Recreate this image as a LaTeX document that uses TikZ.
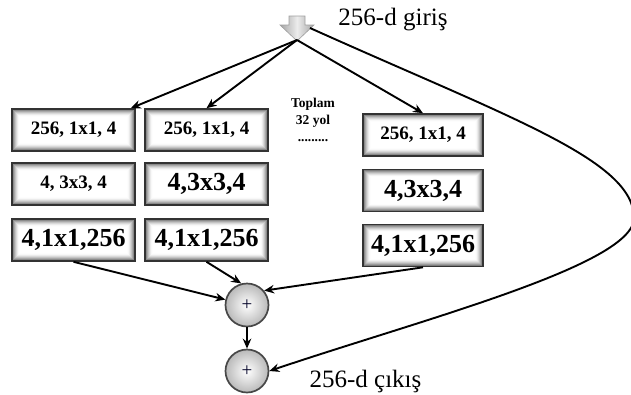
\documentclass[tikz,border=0pt]{standalone}
\usepackage{fontspec}
\setmainfont{Liberation Serif}
\usetikzlibrary{arrows.meta}

\tikzset{
  % block with a soft inner gray glow along its border
  blk/.style={draw=black!80, line width=1.6pt, fill=white,
    minimum width=123pt, minimum height=42pt, inner sep=0pt,
    font=\bfseries,
    path picture={
      \foreach \i in {0,...,13}{
        \pgfmathsetmacro\d{0.8+0.5*\i}
        \pgfmathsetmacro\c{58*(1-\i/14)^1.6}
        \draw[black!\c, line width=0.65pt]
          ([shift={(\d pt,-\d pt)}]path picture bounding box.north west)
          rectangle ([shift={(-\d pt,\d pt)}]path picture bounding box.south east);
      }}},
  small/.style={font=\bfseries\fontsize{19}{19}\selectfont},
  large/.style={font=\bfseries\fontsize{26}{26}\selectfont},
  addnode/.style={circle, minimum size=43pt, inner sep=0pt,
    inner color=white, outer color=gray!55, draw=black!72, line width=1.7pt,
    text=black!85!blue, font=\fontsize{19}{19}\selectfont},
  arr/.style={-{Stealth[length=10pt,width=8.5pt]}, line width=1.9pt, black},
  lbl/.style={font=\fontsize{25}{25}\selectfont, inner sep=0pt, anchor=base},
}

\begin{document}
\begin{tikzpicture}[x=1pt,y=-1pt]
\useasboundingbox (0,0) rectangle (631,394);

% input arrow symbol
\shade[left color=gray!70, right color=gray!70, middle color=gray!15, draw=gray!75, line width=0.6pt]
  (289,16) -- (305,16) -- (305,25) -- (314,25) -- (297,41) -- (280,25) -- (289,25) -- cycle;
\coordinate (inp) at (297,40);
\coordinate (inpr) at (310,28);

\node[lbl] (ginis) at (393,25) {256-d giriş};

% first path
\node[blk, small] (b11) at (73.5,130) {256, 1x1, 4};
\node[blk, small] (b12) at (73.5,184) {4, 3x3, 4};
\node[blk, large] (b13) at (73.5,240) {4,1x1,256};

% second path
\node[blk, small] (b21) at (206.5,130) {256, 1x1, 4};
\node[blk, large] (b22) at (206.5,184) {4,3x3,4};
\node[blk, large] (b23) at (206.5,240) {4,1x1,256};

% last path
\node[blk, small, minimum width=120pt] (b31) at (423,135) {256, 1x1, 4};
\node[blk, large, minimum width=120pt] (b32) at (423,190.5) {4,3x3,4};
\node[blk, large, minimum width=120pt] (b33) at (423,245.5) {4,1x1,256};

\node[font=\bfseries\fontsize{13.5}{17}\selectfont, align=center, inner sep=0pt, anchor=base]
  (toplam) at (313,141) {Toplam\\32 yol\\.........};

% adders
\node[addnode] (sum1) at (247,305) {+};
\node[addnode] (sum2) at (247,371) {+};

\node[lbl] (cikis) at (365.5,387) {256-d çıkış};

% connectors
\draw[arr] (inp) -- ([xshift=-5pt]b11.north east);
\draw[arr] (inp) -- (b21.north);
\draw[arr] (inp) -- (b31.north);

\draw[arr] (b13.south) -- (sum1);
\draw[arr] (b23.south) -- (sum1.105);
\draw[arr] (b33.south) -- (sum1.40);
\draw[arr] (sum1) -- (sum2);

% identity shortcut
\draw[arr] (inpr) .. controls (510,118) and (634,160) .. (634,218)
  .. controls (634,265) and (420,320) .. (sum2.east);
\end{tikzpicture}
\end{document}
